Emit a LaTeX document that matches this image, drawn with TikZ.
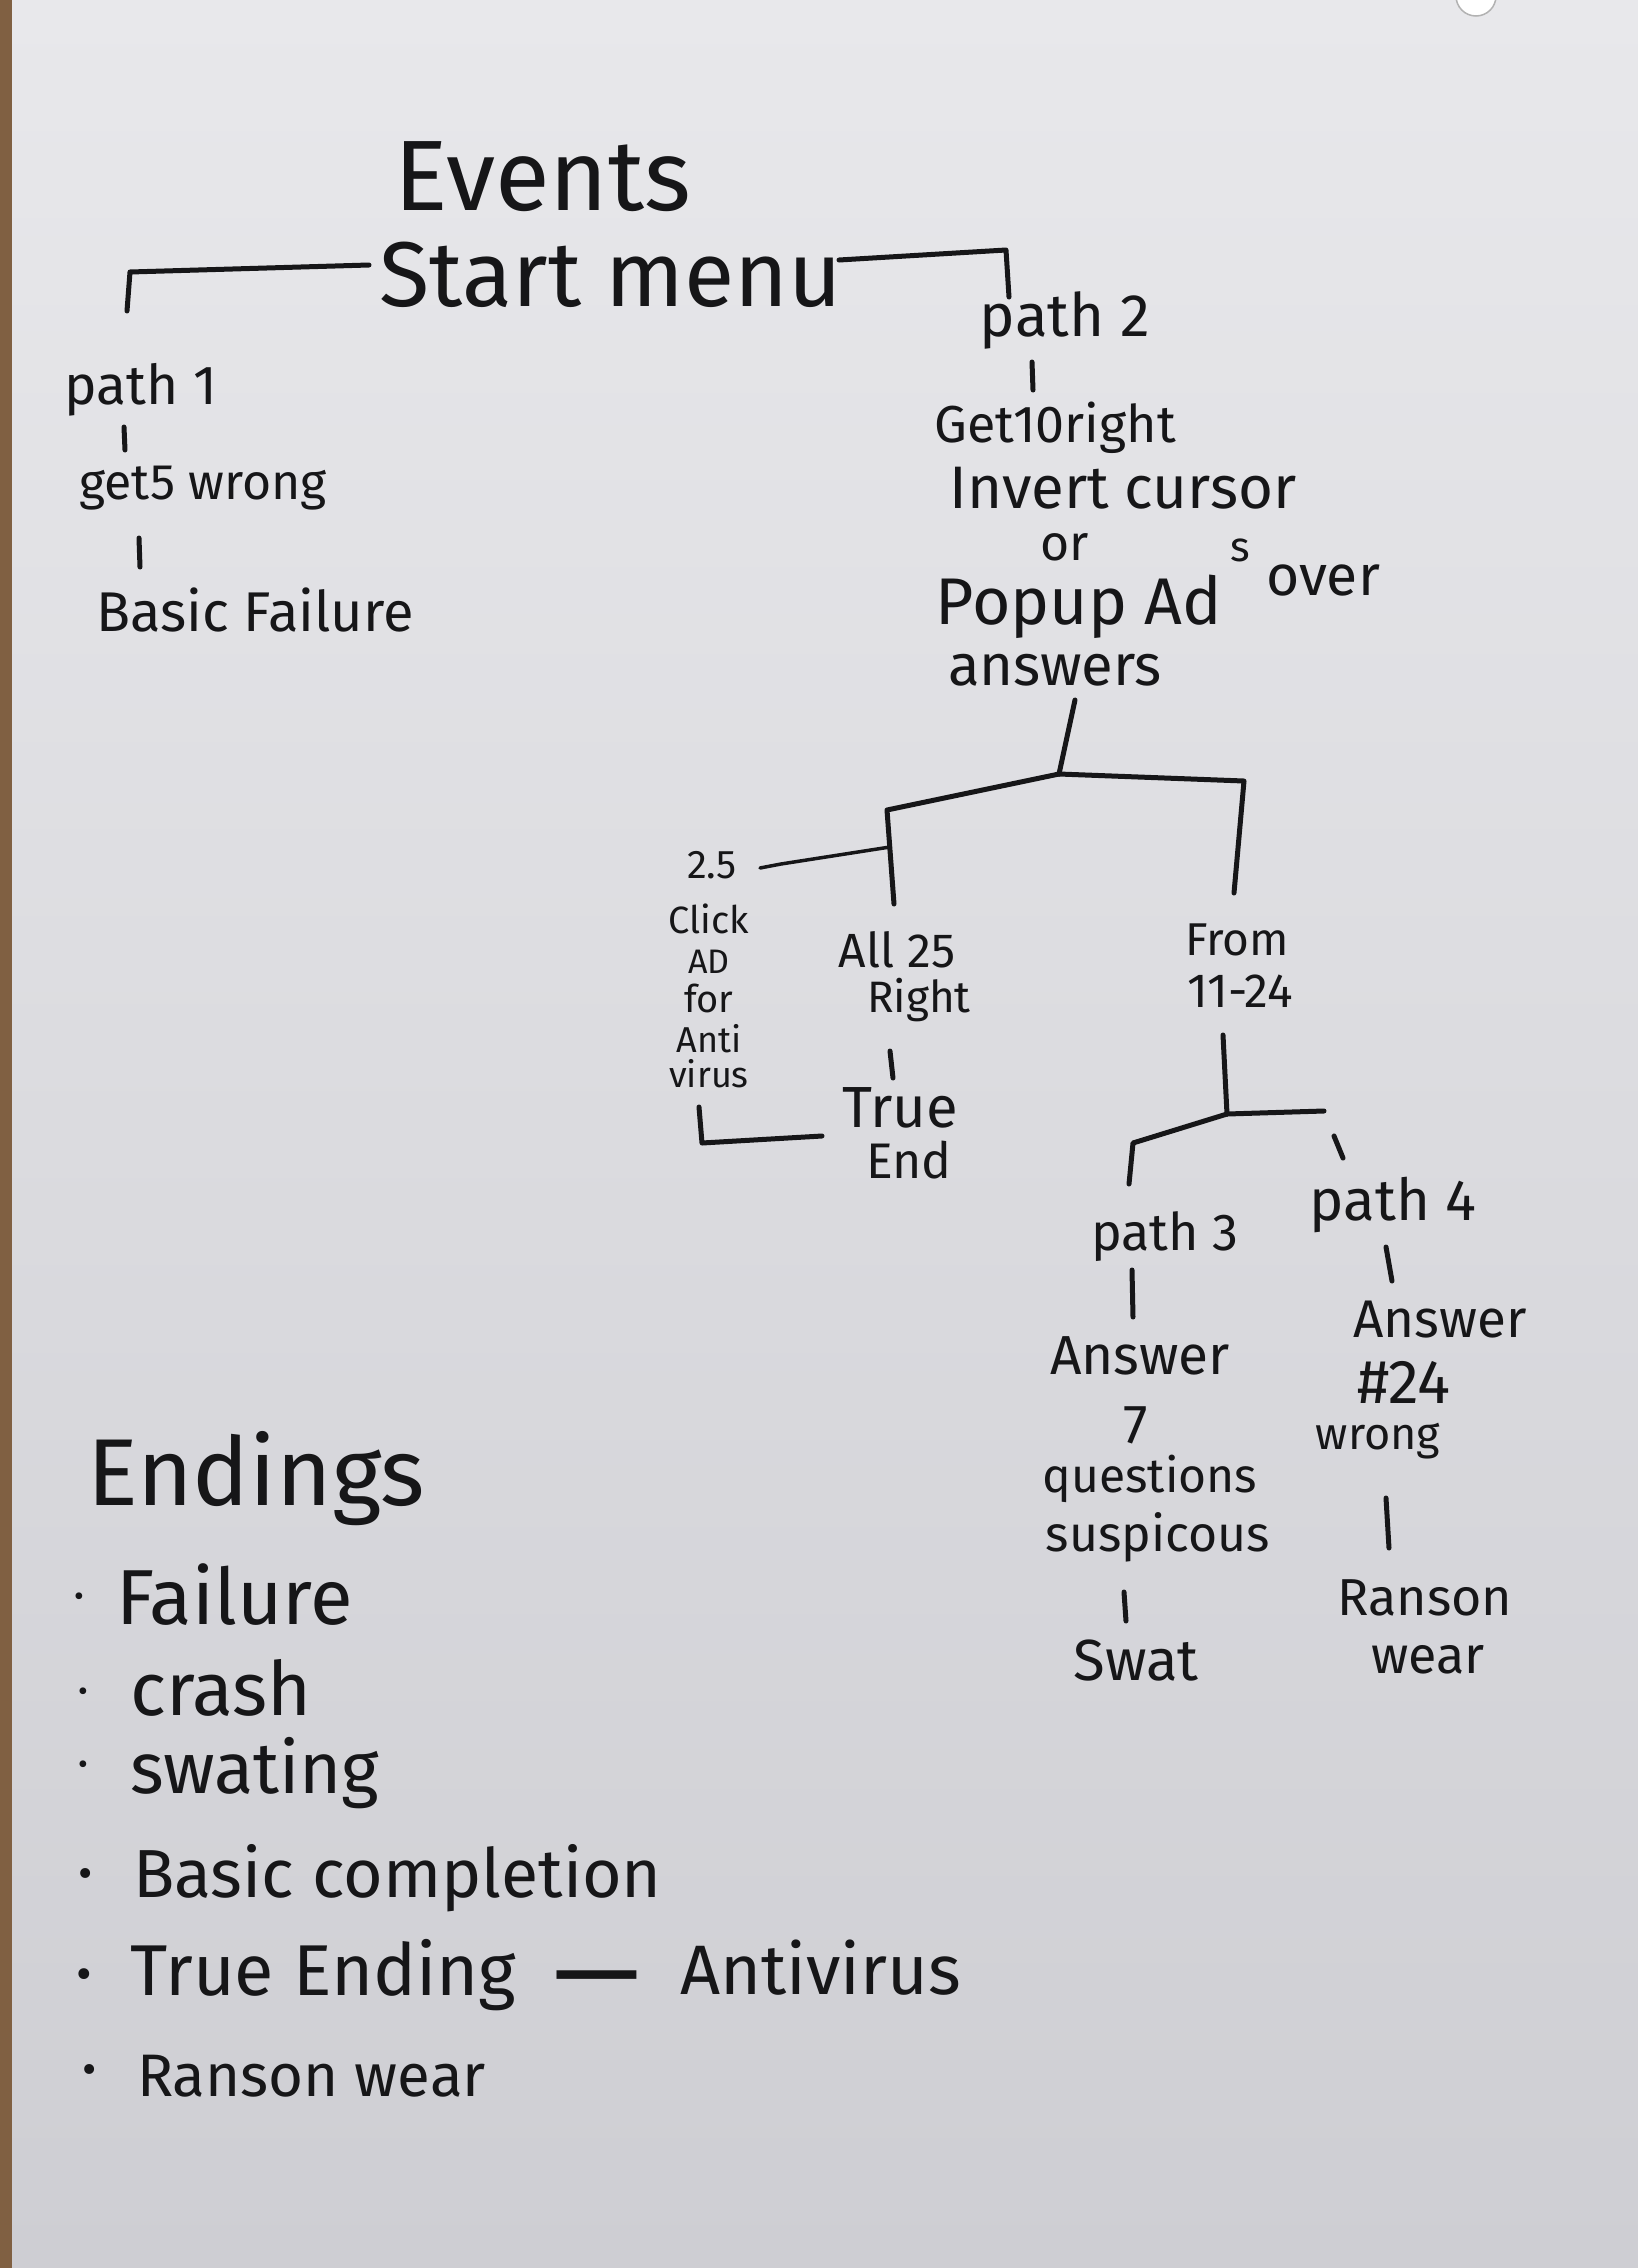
\documentclass[tikz,border=0pt]{standalone}
\usepackage{fontspec}
\setmainfont{Fira Sans}
\usetikzlibrary{calc}
\definecolor{ink}{RGB}{22,22,24}
\definecolor{boardtop}{RGB}{232,232,235}
\definecolor{boardbot}{RGB}{206,206,211}
\definecolor{frame}{RGB}{128,96,66}
\newcommand\fsz[1]{\fontsize{#1}{#1}\selectfont}
\tikzset{
  lbl/.style={inner sep=0pt, text=ink, font=\fsz{#1}},
  lbl/.default=50,
  item/.style={inner sep=0pt, text=ink, anchor=west, font=\fsz{#1}},
  item/.default=70,
  mk/.style={draw=ink, line width=5pt, line cap=round, line join=round},
}
\begin{document}
\begin{tikzpicture}[x=1pt,y=-1pt]
\useasboundingbox (0,0) rectangle (1638,2268);
\shade[top color=boardtop, bottom color=boardbot] (0,0) rectangle (1638,2268);
\fill[frame] (0,0) rectangle (12,2268);
\begin{scope}
\clip (0,0) rectangle (1638,2268);
\filldraw[fill=white, draw=gray!60, line width=1.5pt] (1476,-4) circle (20);
\end{scope}

% ---- Events tree ----
\node[lbl=100] (ev) at (543,177) {Events};
\node[lbl=92] (sm) at (611,275) {Start menu};

\node[lbl=55] (p1) at (141,390) {path 1};
\node[lbl=50] (g5) at (203,488) {get5 wrong};
\node[lbl=56] (bf) at (255,610) {Basic Failure};

\node[lbl=60] (p2) at (1065,320) {path 2};
\node[lbl=52] (g10) at (1055,428) {Get10right};
\node[lbl=60] (inv) at (1123,488) {Invert cursor};
\node[lbl=50] (or) at (1065,547) {or};
\node[lbl=66] (pop) at (1079,607) {Popup Ad};
\node[lbl=42] (ss) at (1240,550) {s};
\node[lbl=57] (ov) at (1323,580) {over};
\node[lbl=58] (ans) at (1055,670) {answers};

\node[lbl=40] (tc) at (712,865) {2.5};
\node[lbl=38] (click) at (709,919) {Click};
\node[lbl=34] (ad) at (709,962) {AD};
\node[lbl=38] (for) at (709,998) {for};
\node[lbl=36] (anti) at (709,1039) {Anti};
\node[lbl=36] (vir) at (709,1074) {virus};

\node[lbl=48] (a25) at (897,950) {All 25};
\node[lbl=44] (rt) at (919,1000) {Right};
\node[lbl=58] (tr) at (900,1108) {True};
\node[lbl=50] (end) at (909,1160) {End};

\node[lbl=46] (fr) at (1237,940) {From};
\node[lbl=48] (r1124) at (1240,991) {11-24};

\node[lbl=52] (p3) at (1165,1237) {path 3};
\node[lbl=55] (an3) at (1140,1356) {Answer};
\node[lbl=55] (sev) at (1136,1425) {7};
\node[lbl=48] (q) at (1150,1479) {questions};
\node[lbl=50] (sus) at (1158,1537) {suspicous};
\node[lbl=58] (sw) at (1136,1660) {Swat};

\node[lbl=58] (p4) at (1393,1205) {path 4};
\node[lbl=53] (an4) at (1440,1320) {Answer};
\node[lbl=62] (h24) at (1404,1382) {\#24};
\node[lbl=45] (wr) at (1378,1441) {wrong};
\node[lbl=52] (ran) at (1425,1598) {Ranson};
\node[lbl=52] (wear) at (1428,1660) {wear};

% junction coordinates
\coordinate (c1) at (130,272);
\coordinate (c2) at (1006,250);
\coordinate (j1) at (1059,774);
\coordinate (l1) at (887,810);
\coordinate (r1c) at (1244,781);
\coordinate (b25) at (890,847);
\coordinate (m25) at (781,864);
\coordinate (bk) at (702,1143);
\coordinate (j2) at (1227,1114);
\coordinate (l2) at (1133,1143);
\coordinate (rj) at (1324,1111);
\coordinate (rj2) at (1334,1136);

% connectors
\draw[mk] ($(sm)+(-242,-10)$) -- (c1) -- ($(p1)+(-14,-79)$);
\draw[mk] ($(sm)+(228,-15)$) -- (c2) -- ($(p2)+(-56,-23)$);
\draw[mk] ($(p1)+(-17,37)$) -- ($(g5)+(-78,-38)$);
\draw[mk] ($(g5)+(-64,50)$) -- ($(bf)+(-115,-43)$);
\draw[mk] ($(p2)+(-33,42)$) -- ($(g10)+(-22,-38)$);

\draw[mk] ($(ans)+(20,30)$) -- (j1);
\draw[mk] (j1) -- (l1) -- ($(a25)+(-3,-46)$);
\draw[mk] (j1) -- (r1c) -- ($(fr)+(-3,-47)$);
\draw[mk, line width=3.5pt] (b25) -- (m25) -- ($(tc)+(48,3)$);
\draw[mk] ($(rt)+(-29,51)$) -- ($(tr)+(-7,-30)$);
\draw[mk] ($(vir)+(-10,33)$) -- (bk) -- ($(tr)+(-78,28)$);

\draw[mk] ($(r1124)+(-17,44)$) -- (j2);
\draw[mk] (j2) -- (l2) -- ($(p3)+(-36,-53)$);
\draw[mk] (j2) -- (rj);
\draw[mk] (rj2) -- ($(p4)+(-50,-47)$);
\draw[mk] ($(p3)+(-33,33)$) -- ($(an3)+(-7,-39)$);
\draw[mk] ($(sus)+(-34,55)$) -- ($(sw)+(-10,-39)$);
\draw[mk] ($(p4)+(-7,42)$) -- ($(an4)+(-48,-39)$);
\draw[mk] ($(wr)+(8,57)$) -- ($(ran)+(-36,-50)$);

% ---- Endings ----
\node[item=95] (en) at (87,1479) {Endings};
\node[item=30] (d1) at (74,1600) {•};
\node[item=78] (fail) at (116,1595) {Failure};
\node[item=30] (d2) at (78,1695) {•};
\node[item=75] (crash) at (130,1688) {crash};
\node[item=30] (d3) at (78,1768) {•};
\node[item=72] (swt) at (130,1773) {swating};
\node[item=44] (d4) at (78,1878) {•};
\node[item=68] (basic) at (133,1878) {Basic completion};
\node[item=48] (d5) at (76,1980) {•};
\node[item=72] (tre) at (130,1975) {True Ending};
\node[item=110] (dash) at (553,1990) {—};
\node[item=70] (antiv) at (680,1968) {Antivirus};
\node[item=44] (d6) at (82,2074) {•};
\node[item=60] (ranw) at (137,2076) {Ranson wear};
\end{tikzpicture}
\end{document}
